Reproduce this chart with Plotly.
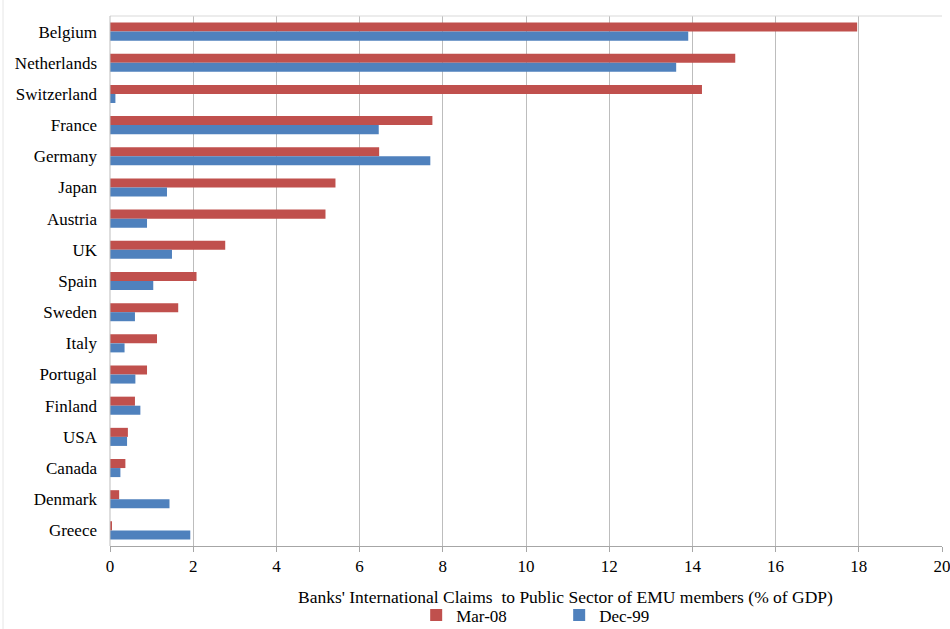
import plotly.graph_objects as go

countries = ["Belgium", "Netherlands", "Switzerland", "France", "Germany", "Japan",
             "Austria", "UK", "Spain", "Sweden", "Italy", "Portugal", "Finland",
             "USA", "Canada", "Denmark", "Greece"]
mar08 = [17.96, 15.03, 14.23, 7.75, 6.47, 5.42, 5.18, 2.77, 2.08, 1.64, 1.13,
         0.89, 0.60, 0.43, 0.37, 0.22, 0.04]
dec99 = [13.90, 13.61, 0.13, 6.46, 7.70, 1.37, 0.89, 1.49, 1.04, 0.60, 0.35,
         0.61, 0.73, 0.41, 0.25, 1.43, 1.93]
xticks = [0, 2, 4, 6, 8, 10, 12, 14, 16, 18, 20]

RED = "#C0504D"
BLUE = "#4F81BD"
FONT = "Times New Roman"
FS = 17

fig = go.Figure()
fig.add_trace(go.Bar(y=countries, x=mar08, orientation="h", name="Mar-08",
                     marker=dict(color=RED, line=dict(width=0))))
fig.add_trace(go.Bar(y=countries, x=dec99, orientation="h", name="Dec-99",
                     marker=dict(color=BLUE, line=dict(width=0))))

fig.update_layout(
    width=950, height=629,
    margin=dict(l=110, r=8, t=16, b=83, autoexpand=False),
    paper_bgcolor="white", plot_bgcolor="white",
    barmode="group", bargap=0.42, bargroupgap=0,
    font=dict(family=FONT, size=FS, color="#000000"),
    showlegend=True,
    legend=dict(orientation="h", x=0.368, xanchor="left", y=-0.097, yanchor="top",
                font=dict(family=FONT, size=FS), itemwidth=30,
                entrywidth=98, entrywidthmode="pixels",
                traceorder="normal", bgcolor="rgba(0,0,0,0)"),
    xaxis=dict(range=[0, 20], tickvals=xticks, ticktext=[str(v) for v in xticks],
               showgrid=True, gridcolor="#BDBDBD", gridwidth=1,
               showline=True, linecolor="#A6A6A6", linewidth=1,
               ticks="outside", ticklen=5, tickcolor="#A6A6A6",
               zeroline=False, fixedrange=True, automargin=False,
               ticklabeloverflow="allow",
               tickfont=dict(family=FONT, size=FS)),
    yaxis=dict(autorange="reversed", showgrid=False, showline=False,
               ticks="", ticklabelstandoff=12, automargin=False,
               tickfont=dict(family=FONT, size=FS)),
    annotations=[dict(text="Banks' International Claims  to Public Sector of EMU members (% of GDP)",
                      xref="paper", yref="paper", x=0.548, y=-0.096,
                      xanchor="center", yanchor="middle", showarrow=False,
                      font=dict(family=FONT, size=17.5))],
    shapes=[
        dict(type="line", xref="paper", yref="paper", x0=0, x1=1, y0=1, y1=1,
             line=dict(color="#D9D9D9", width=1)),
        dict(type="line", xref="paper", yref="paper", x0=0, x1=0, y0=0, y1=1,
             line=dict(color="#BDBDBD", width=1)),
        dict(type="line", xref="paper", yref="paper", x0=-0.1286, x1=-0.1286,
             y0=-0.2, y1=1.04, line=dict(color="#E6E6E6", width=1)),
    ],
)

fig.write_html("out.html", config={"displayModeBar": False},
               post_script="document.body.style.margin='0';document.body.style.overflow='hidden';")
